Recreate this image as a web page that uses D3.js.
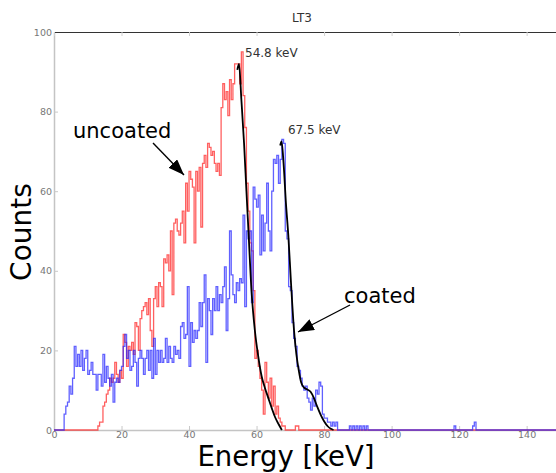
<!DOCTYPE html>
<html>
<head>
<meta charset="utf-8">
<script src="https://cdn.jsdelivr.net/npm/d3@7"></script>
<style>
  html, body { margin: 0; padding: 0; background: #fff; }
  svg { display: block; font-family: "DejaVu Sans", sans-serif; }
</style>
</head>
<body>
<svg id="chart" width="556" height="473"></svg>
<script>
// Spectrum bins: 0.5 keV wide
const binWidth = 0.5;
const energyMax = 150;

// Uncoated spectrum, first bin at 13.0 keV
const uncoatedStart = 13.0;
const uncoatedCounts = [
  1, 2, 2, 6, 7, 9, 10, 13, 12, 13,
  17, 14, 12, 15, 13, 24, 22, 16, 21, 20,
  22, 19, 27, 26, 20, 28, 30, 31, 32, 29,
  33, 25, 21, 33, 36, 31, 37, 36, 31, 43,
  42, 44, 40, 50, 34, 52, 53, 50, 49, 52,
  55, 47, 62, 55, 65, 63, 61, 47, 65, 60,
  66, 51, 67, 69, 66, 72, 71, 69, 70, 67,
  65, 67, 64, 81, 87, 83, 85, 79, 88, 83,
  87, 92, 92, 92, 87, 95, 84, 76, 62, 55,
  47, 45, 35, 18, 20, 16, 13, 10, 4, 17,
  12, 8, 13, 6, 11, 4, 6, 3, 2, 1,
  1, 0, 0, 0, 0, 0, 0, 1, 1, 0
];

// Coated spectrum, first bin at 3.0 keV
const coatedStart = 3.0;
const coatedCounts = [
  4, 6, 7, 11, 9, 13, 21, 16, 19, 16,
  20, 15, 18, 20, 14, 15, 17, 14, 14, 10,
  14, 14, 11, 19, 12, 16, 13, 11, 14, 7,
  12, 13, 12, 15, 16, 21, 24, 18, 20, 15,
  16, 20, 17, 11, 18, 20, 18, 14, 18, 20,
  15, 20, 13, 23, 14, 20, 17, 20, 17, 18,
  23, 17, 21, 18, 17, 21, 19, 20, 18, 26,
  27, 23, 24, 36, 16, 27, 22, 25, 23, 25,
  32, 26, 32, 39, 17, 33, 30, 24, 33, 30,
  36, 30, 34, 32, 36, 41, 25, 33, 50, 39,
  34, 32, 37, 35, 38, 37, 54, 31, 50, 48,
  50, 32, 61, 58, 56, 59, 44, 54, 45, 52,
  62, 50, 45, 60, 68, 67, 69, 62, 68, 73,
  72, 50, 48, 36, 35, 27, 23, 21, 16, 15,
  13, 11, 10, 11, 8, 7, 5, 8, 6, 10,
  9, 12, 11, 4, 3, 3, 2, 2, 1, 2,
  1, 2, 0
];
// Isolated coated counts above the main spectrum
const coatedTailEnergy = [87.5, 88.5, 89.5, 90.5, 91.5, 92.5, 118.5, 124.0, 124.5];
const coatedTailCounts = [1, 1, 1, 1, 1, 1, 1, 1, 2];

// Fitted edge curves (keV, counts)
const uncoatedFitEnergy = [54.3, 54.8, 55.5, 56.3, 57.0, 57.6, 58.5, 59.5, 60.5, 61.5, 62.5, 63.5, 64.5, 65.5, 66.5, 67.5];
const uncoatedFitCounts = [90.5, 92, 83, 72, 60, 50, 35, 25, 18.5, 13.5, 10.5, 8, 5.5, 3.2, 1.5, 0];
const coatedFitEnergy = [67.0, 67.4, 68.0, 68.7, 69.4, 70.2, 71.1, 71.8, 72.5, 73.2, 74.0, 75.0, 76.0, 77.0, 78.0, 79.0, 80.0, 81.0, 82.0, 82.8];
const coatedFitCounts = [71.5, 72.5, 67, 57, 49, 37, 25, 19, 15, 12, 10.7, 10.2, 9.6, 8, 5.8, 3.8, 2.2, 1, 0.3, 0];

const xTicks = [0, 20, 40, 60, 80, 100, 120, 140];
const yTicks = [0, 20, 40, 60, 80, 100];

const peakLabels = [
  { text: "54.8 keV", energy: 54.8, counts: 92 },
  { text: "67.5 keV", energy: 67.5, counts: 72.5 }
];

const svg = d3.select("#chart");
const plotLeft = 54, plotTop = 32, plotBottom = 430;
const x = d3.scaleLinear().domain([0, energyMax]).range([plotLeft, plotLeft + energyMax * 3.376]);
const y = d3.scaleLinear().domain([0, 100]).range([plotBottom, plotTop]);

// Axes: light frame with short inward ticks
const gx = svg.append("g").attr("transform", `translate(0,${plotBottom})`)
  .call(d3.axisBottom(x).tickValues(xTicks).tickSizeInner(-4).tickSizeOuter(0).tickPadding(1));
const gy = svg.append("g").attr("transform", `translate(${plotLeft},0)`)
  .call(d3.axisLeft(y).tickValues(yTicks).tickSizeInner(-4).tickSizeOuter(0).tickPadding(2));
const gt = svg.append("g").attr("transform", `translate(0,${plotTop})`)
  .call(d3.axisTop(x).tickValues(xTicks).tickSizeInner(-4).tickSizeOuter(0).tickFormat(""));
const gr = svg.append("g").attr("transform", `translate(${x(energyMax)},0)`)
  .call(d3.axisRight(y).tickValues(yTicks).tickSizeInner(-4).tickSizeOuter(0).tickFormat(""));

[gx, gy, gr].forEach(g => {
  g.select(".domain").attr("stroke", "#c4c4c4").attr("stroke-width", 1.5);
  g.selectAll(".tick line").attr("stroke", "#c8c8c8");
  g.selectAll(".tick text").attr("fill", "#777").attr("font-size", 9.5)
    .attr("font-family", "DejaVu Sans, sans-serif");
});
gt.select(".domain").attr("stroke", "#333").attr("stroke-width", 1.2);
gt.selectAll(".tick line").attr("stroke", "#d0d0d0");

// Build a full step series over the whole energy range
function spectrum(start, counts, extraE = [], extraC = []) {
  const n = Math.round(energyMax / binWidth);
  const bins = new Array(n).fill(0);
  const offset = Math.round(start / binWidth);
  counts.forEach((c, i) => { bins[offset + i] = c; });
  extraE.forEach((e, k) => { bins[Math.round(e / binWidth)] = extraC[k]; });
  const pts = bins.map((c, i) => [i * binWidth, c]);
  pts.push([energyMax, 0]);
  return pts;
}

const step = d3.line().x(d => x(d[0])).y(d => y(d[1])).curve(d3.curveStepAfter);

svg.append("path")
  .datum(spectrum(uncoatedStart, uncoatedCounts))
  .attr("d", step)
  .attr("fill", "none")
  .attr("stroke", "#ff2222")
  .attr("stroke-opacity", 0.72)
  .attr("stroke-width", 1.3);

svg.append("path")
  .datum(spectrum(coatedStart, coatedCounts, coatedTailEnergy, coatedTailCounts))
  .attr("d", step)
  .attr("fill", "none")
  .attr("stroke", "#2222ff")
  .attr("stroke-opacity", 0.72)
  .attr("stroke-width", 1.3);

// Fitted curves
const smooth = d3.line().x(d => x(d[0])).y(d => y(d[1])).curve(d3.curveMonotoneX);
[[uncoatedFitEnergy, uncoatedFitCounts], [coatedFitEnergy, coatedFitCounts]].forEach(([es, cs]) => {
  svg.append("path")
    .datum(es.map((e, i) => [e, cs[i]]))
    .attr("d", smooth)
    .attr("fill", "none")
    .attr("stroke", "#000")
    .attr("stroke-width", 1.8);
});

// Peak energy labels
svg.selectAll(".peak").data(peakLabels).enter().append("text")
  .attr("x", d => x(d.energy) + 6)
  .attr("y", d => y(d.counts) - 7)
  .attr("font-size", 12)
  .attr("fill", "#333")
  .text(d => d.text);

// Arrow annotations
svg.append("defs").append("marker")
  .attr("id", "head")
  .attr("markerUnits", "userSpaceOnUse")
  .attr("viewBox", "0 0 16 12")
  .attr("refX", 16).attr("refY", 6)
  .attr("markerWidth", 16).attr("markerHeight", 12)
  .attr("orient", "auto")
  .append("path").attr("d", "M0,0 L16,6 L0,12 Z").attr("fill", "#000");

svg.append("line").attr("x1", 153).attr("y1", 143).attr("x2", 184).attr("y2", 175)
  .attr("stroke", "#000").attr("stroke-width", 1.4).attr("marker-end", "url(#head)");
svg.append("line").attr("x1", 350).attr("y1", 305).attr("x2", 298).attr("y2", 332)
  .attr("stroke", "#000").attr("stroke-width", 1.4).attr("marker-end", "url(#head)");

svg.append("text").attr("x", 73).attr("y", 138).attr("font-size", 21).attr("fill", "#000").text("uncoated");
svg.append("text").attr("x", 344).attr("y", 303).attr("font-size", 21).attr("fill", "#000").text("coated");

// Title and axis titles
svg.append("text").attr("x", 302).attr("y", 22).attr("text-anchor", "middle")
  .attr("font-size", 12).attr("fill", "#333").text("LT3");
svg.append("text").attr("x", 286).attr("y", 466).attr("text-anchor", "middle")
  .attr("font-size", 27.5).attr("fill", "#000").text("Energy [keV]");
svg.append("text").attr("transform", "translate(31,232) rotate(-90)").attr("text-anchor", "middle")
  .attr("font-size", 28).attr("fill", "#000").text("Counts");
</script>
</body>
</html>
